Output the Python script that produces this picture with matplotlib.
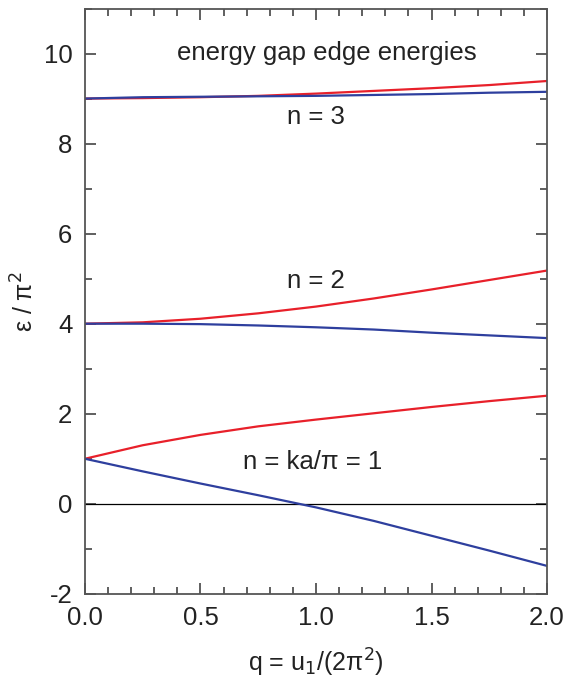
import numpy as np
import matplotlib.pyplot as plt
from matplotlib.ticker import MultipleLocator

plt.rcParams['font.family'] = ['Liberation Sans', 'DejaVu Sans']

# valores (q, energia / pi^2)
q = [0.0, 0.25, 0.5, 0.75, 1.0, 1.25, 1.5, 1.75, 2.0]

n1_sup = [1.0, 1.30, 1.53, 1.72, 1.87, 2.01, 2.15, 2.28, 2.40]
n1_inf = [1.0, 0.72, 0.45, 0.19, -0.08, -0.38, -0.71, -1.04, -1.38]
n2_sup = [4.0, 4.03, 4.11, 4.23, 4.38, 4.56, 4.76, 4.97, 5.18]
n2_inf = [4.0, 4.0, 3.99, 3.96, 3.92, 3.87, 3.80, 3.74, 3.68]
n3_sup = [9.0, 9.01, 9.03, 9.06, 9.11, 9.17, 9.23, 9.30, 9.39]
n3_inf = [9.0, 9.03, 9.04, 9.05, 9.06, 9.08, 9.10, 9.13, 9.15]

rojo = '#e8202a'
azul = '#2e3f9e'

fig = plt.figure(figsize=(5.74, 6.81), dpi=100)
ax = fig.add_axes([0.148, 0.128, 0.805, 0.8595])

ax.axhline(0, color='black', lw=0.9)

for sup, inf in [(n1_sup, n1_inf), (n2_sup, n2_inf), (n3_sup, n3_inf)]:
    ax.plot(q, sup, color=rojo, lw=1.6)
    ax.plot(q, inf, color=azul, lw=1.6)

ax.set_xlim(0, 2)
ax.set_ylim(-2, 11)
ax.xaxis.set_minor_locator(MultipleLocator(0.1))
ax.yaxis.set_minor_locator(MultipleLocator(1))
ax.set_xticks([0, 0.5, 1.0, 1.5, 2.0])
ax.set_xticklabels(['0.0', '0.5', '1.0', '1.5', '2.0'])
ax.set_yticks([-2, 0, 2, 4, 6, 8, 10])
ax.set_yticklabels(['-2', '0', '2', '4', '6', '8', '10'])

ax.tick_params(which='both', direction='in', top=True, right=True,
               labelsize=18.5, colors='#444444', labelcolor='#222222', width=1.2)
ax.tick_params(which='major', length=8, pad=9)
ax.tick_params(which='minor', length=5)
for s in ax.spines.values():
    s.set_color('#555555')
    s.set_linewidth(1.3)

ax.set_xlabel('q = u$_1$/(2π$^2$)', fontsize=18, color='#222222', labelpad=12)
ax.set_ylabel('ε / π$^2$', fontsize=18, color='#222222', labelpad=4)

ax.text(1.045, 10.02, 'energy gap edge energies', fontsize=18.5, ha='center',
        va='center', color='#222222')
ax.text(1.0, 8.58, 'n = 3', fontsize=18.5, ha='center', va='center', color='#222222')
ax.text(1.0, 4.95, 'n = 2', fontsize=18.5, ha='center', va='center', color='#222222')
ax.text(0.985, 0.92, 'n = ka/π = 1', fontsize=18.5, ha='center', va='center',
        color='#222222')

fig.savefig('out.png', dpi=100)
